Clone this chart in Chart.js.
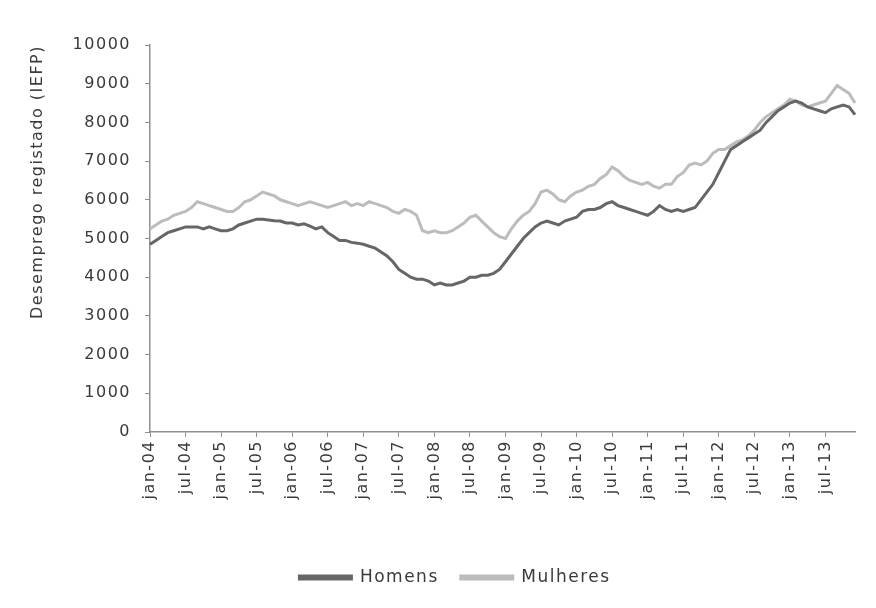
<!DOCTYPE html>
<html>
<head>
<meta charset="utf-8">
<script src="https://cdn.jsdelivr.net/npm/chart.js@4"></script>
<style>
  html, body { margin: 0; padding: 0; background: #fff; }
  #wrap { width: 876px; height: 608px; }
</style>
</head>
<body>
<div id="wrap"><canvas id="myChart"></canvas></div>
<script>
// month names and years used to build the category labels (jan-04 .. dez-13)
const months = ['jan', 'fev', 'mar', 'abr', 'mai', 'jun', 'jul', 'ago', 'set', 'out', 'nov', 'dez'];
const years = ['04', '05', '06', '07', '08', '09', '10', '11', '12', '13'];

// monthly registered unemployment
const homens = [
    4850, 4950, 5050, 5150, 5200, 5250, 5300, 5300, 5300, 5250, 5300, 5250,
    5200, 5200, 5250, 5350, 5400, 5450, 5500, 5500, 5480, 5460, 5450, 5400,
    5400, 5350, 5380, 5320, 5250, 5300, 5150, 5050, 4950, 4950, 4900, 4880,
    4850, 4800, 4750, 4650, 4550, 4400, 4200, 4100, 4000, 3950, 3950, 3900,
    3800, 3850, 3800, 3800, 3850, 3900, 4000, 4000, 4050, 4050, 4100, 4200,
    4400, 4600, 4800, 5000, 5150, 5300, 5400, 5450, 5400, 5350, 5450, 5500,
    5550, 5700, 5750, 5750, 5800, 5900, 5950, 5850, 5800, 5750, 5700, 5650,
    5600, 5700, 5850, 5750, 5700, 5750, 5700, 5750, 5800, 6000, 6200, 6400,
    6700, 7000, 7300, 7400, 7500, 7600, 7700, 7800, 8000, 8150, 8300, 8400,
    8500, 8550, 8500, 8400, 8350, 8300, 8250, 8350, 8400, 8450, 8400, 8200
];
const mulheres = [
    5250, 5350, 5450, 5500, 5600, 5650, 5700, 5800, 5950, 5900, 5850, 5800,
    5750, 5700, 5700, 5800, 5950, 6000, 6100, 6200, 6150, 6100, 6000, 5950,
    5900, 5850, 5900, 5950, 5900, 5850, 5800, 5850, 5900, 5950, 5850, 5900,
    5850, 5950, 5900, 5850, 5800, 5700, 5650, 5750, 5700, 5600, 5200, 5150,
    5200, 5150, 5150, 5200, 5300, 5400, 5550, 5600, 5450, 5300, 5150, 5050,
    5000, 5250, 5450, 5600, 5700, 5900, 6200, 6250, 6150, 6000, 5950, 6100,
    6200, 6250, 6350, 6400, 6550, 6650, 6850, 6750, 6600, 6500, 6450, 6400,
    6450, 6350, 6300, 6400, 6400, 6600, 6700, 6900, 6950, 6900, 7000, 7200,
    7300, 7300, 7400, 7500, 7550, 7650, 7800, 8000, 8150, 8250, 8350, 8450,
    8600, 8550, 8450, 8400, 8450, 8500, 8550, 8750, 8950, 8850, 8750, 8500
];

const labels = [];
years.forEach(y => months.forEach(m => labels.push(m + '-' + y)));

const axisColor = '#8f8f8f';
const textColor = '#3a3a3a';
const font = { family: '"DejaVu Sans", sans-serif', size: 16 };

// the reference text is very wide, so spread the letters a little
const spacing = {
    id: 'spacing',
    beforeUpdate(chart) { chart.ctx.letterSpacing = '1.5px'; },
    beforeLayout(chart) { chart.ctx.letterSpacing = '1.5px'; },
    beforeDraw(chart) { chart.ctx.letterSpacing = '1.5px'; }
};

const ctx = document.getElementById('myChart').getContext('2d');
const myChart = new Chart(ctx, {
    type: 'line',
    data: {
        labels: labels,
        datasets: [
            {
                label: 'Homens',
                data: homens,
                borderColor: '#666666',
                backgroundColor: '#666666',
                borderWidth: 3,
                pointRadius: 0,
                tension: 0
            },
            {
                label: 'Mulheres',
                data: mulheres,
                borderColor: '#bcbcbc',
                backgroundColor: '#bcbcbc',
                borderWidth: 3,
                pointRadius: 0,
                tension: 0
            }
        ]
    },
    options: {
        responsive: true,
        maintainAspectRatio: false,
        animation: false,
        // left padding pushes the legend centre to the right like the original
        layout: { padding: { top: 45, right: 21, left: 55, bottom: 12 } },
        plugins: {
            tooltip: { enabled: false },
            legend: {
                position: 'bottom',
                labels: {
                    font: { family: '"DejaVu Sans", sans-serif', size: 17 },
                    color: textColor,
                    boxWidth: 52,
                    boxHeight: 3,
                    padding: 22
                }
            }
        },
        scales: {
            x: {
                offset: false,
                border: { color: axisColor, width: 1.5 },
                grid: { drawOnChartArea: false, color: axisColor, tickLength: 5 },
                afterFit(scale) { scale.height = 115; },
                ticks: {
                    autoSkip: false,
                    minRotation: 90,
                    maxRotation: 90,
                    padding: 3,
                    color: textColor,
                    font: font,
                    callback: function (val, i) {
                        return i % 6 === 0 ? labels[i] : null;
                    }
                }
            },
            y: {
                min: 0,
                max: 10000,
                border: { color: axisColor, width: 1.5 },
                grid: { drawOnChartArea: false, color: axisColor, tickLength: 5 },
                afterFit(scale) { scale.width = 95; },
                ticks: {
                    stepSize: 1000,
                    padding: 14,
                    color: textColor,
                    font: font,
                    callback: v => String(v)
                },
                title: {
                    display: true,
                    text: 'Desemprego registado (IEFP)',
                    align: 'end',
                    color: textColor,
                    font: font,
                    padding: { top: -26.6 }
                }
            }
        }
    },
    plugins: [spacing]
});
</script>
</body>
</html>
